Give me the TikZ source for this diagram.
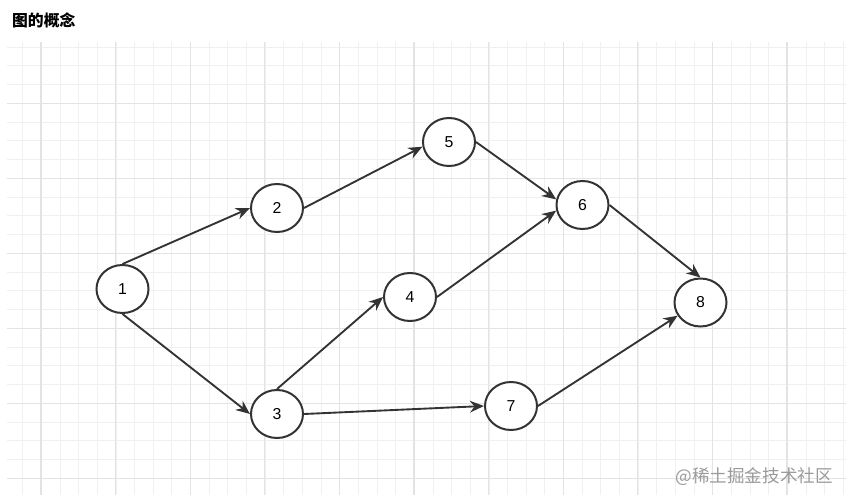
\documentclass[tikz,border=0pt]{standalone}
\usepackage{fontspec}
\setmainfont{Liberation Sans}
\newfontfamily\cjk{Noto Sans CJK SC}
\usetikzlibrary{shapes.geometric,arrows.meta}
\definecolor{gridminor}{HTML}{F0F0F0}
\definecolor{gridmajor}{HTML}{E3E3E3}
\definecolor{edgegray}{HTML}{333333}
\definecolor{markgray}{HTML}{9A9A9A}
\begin{document}
\begin{tikzpicture}[x=0.03cm,y=-0.03cm,
 vertex/.style={draw=edgegray,line width=1.7pt,ellipse,fill=white,minimum width=1.56cm,minimum height=1.44cm,inner sep=0pt,font=\fontsize{13.5}{15}\selectfont},
 edge/.style={draw=edgegray,line width=1.6pt,-{Stealth[length=12pt,width=10pt]}},
 minorline/.style={gridminor,line width=0.7pt},
 majorline/.style={gridmajor,line width=0.9pt}]
 \useasboundingbox (0,0) rectangle (854,503);
 % grid paper
 \foreach \gx in {22.7,41.35,...,844} \draw[minorline] (\gx,42)--(\gx,495);
 \foreach \gy in {47,65.75,...,480} \draw[minorline] (7,\gy)--(846,\gy);
 \foreach \gx in {41,115.6,...,844} \draw[majorline] (\gx,42)--(\gx,495);
 \foreach \gy in {103.3,178.3,...,480} \draw[majorline] (7,\gy)--(846,\gy);
 \node[anchor=west,font=\cjk\bfseries\fontsize{13.5}{15}\selectfont] (title) at (8,20) {图的概念};
 % vertices
 \node[vertex] (n1) at (122.5,289) {1};
 \node[vertex] (n2) at (277,208) {2};
 \node[vertex] (n3) at (277,414) {3};
 \node[vertex] (n4) at (410,297) {4};
 \node[vertex] (n5) at (449,142) {5};
 \node[vertex] (n6) at (582.5,205) {6};
 \node[vertex] (n7) at (511,406) {7};
 \node[vertex] (n8) at (700.5,302.5) {8};
 % edges
 \draw[edge] (n1.north) -- (n2.west);
 \draw[edge] (n1.south) -- (n3.west);
 \draw[edge] (n2.east) -- (n5.190);
 \draw[edge] (n5.east) -- (n6.168);
 \draw[edge] (n4.east) -- (n6.192);
 \draw[edge] (n3.north) -- (n4.west);
 \draw[edge] (n3.east) -- (n7.west);
 \draw[edge] (n7.east) -- (n8.210);
 \draw[edge] (n6.east) -- (n8.north);
 \node[anchor=east,text=markgray,font=\cjk\fontsize{15}{17}\selectfont] (mark) at (837,477) {@稀土掘金技术社区};
\end{tikzpicture}
\end{document}
